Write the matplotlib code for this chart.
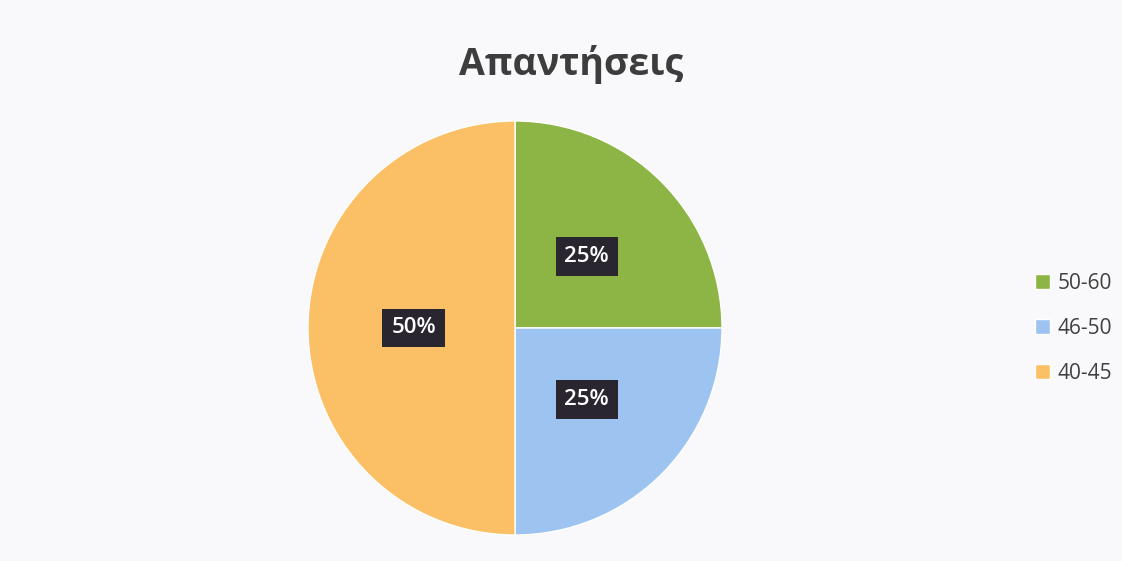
import matplotlib.pyplot as plt

plt.rcParams['font.family'] = ['Open Sans', 'DejaVu Sans']

categories = ['50-60', '46-50', '40-45']
values = [25, 25, 50]
colors = ['#8db545', '#9dc3f0', '#fbbf66']
title = 'Απαντήσεις'

fig = plt.figure(figsize=(11.22, 5.61), dpi=100)
fig.patch.set_facecolor('#f9f8fb')

# pie centred at about (515, 328) px, radius ~207 px
W, H = 1122, 561
r = 207
ax = fig.add_axes([(515 - r) / W, (H - 328 - r) / H, 2 * r / W, 2 * r / H])
wedges, texts, autotexts = ax.pie(
    values, colors=colors, startangle=90, counterclock=False,
    autopct='%d%%', pctdistance=0.49,
    wedgeprops=dict(edgecolor='white', linewidth=1))
for t in autotexts:
    t.set_color('white')
    t.set_fontsize(16)
    t.set_fontweight('semibold')
    t.set_bbox(dict(boxstyle='square,pad=0.4', facecolor='#29262f', edgecolor='none'))
ax.set_xlim(-1, 1)
ax.set_ylim(-1, 1)
ax.set_aspect('auto')

fig.text(0.509, 0.885, title, ha='center', va='center', fontsize=27,
         fontweight='bold', color='#3d3d3d')

leg = fig.legend(wedges, categories, loc='center left', bbox_to_anchor=(0.906, 0.415),
                 frameon=False, fontsize=15, handlelength=0.7, handleheight=0.7,
                 handletextpad=0.35, labelspacing=1.15)
for t in leg.get_texts():
    t.set_color('#404040')

plt.savefig('out.png', dpi=100, facecolor=fig.get_facecolor())
